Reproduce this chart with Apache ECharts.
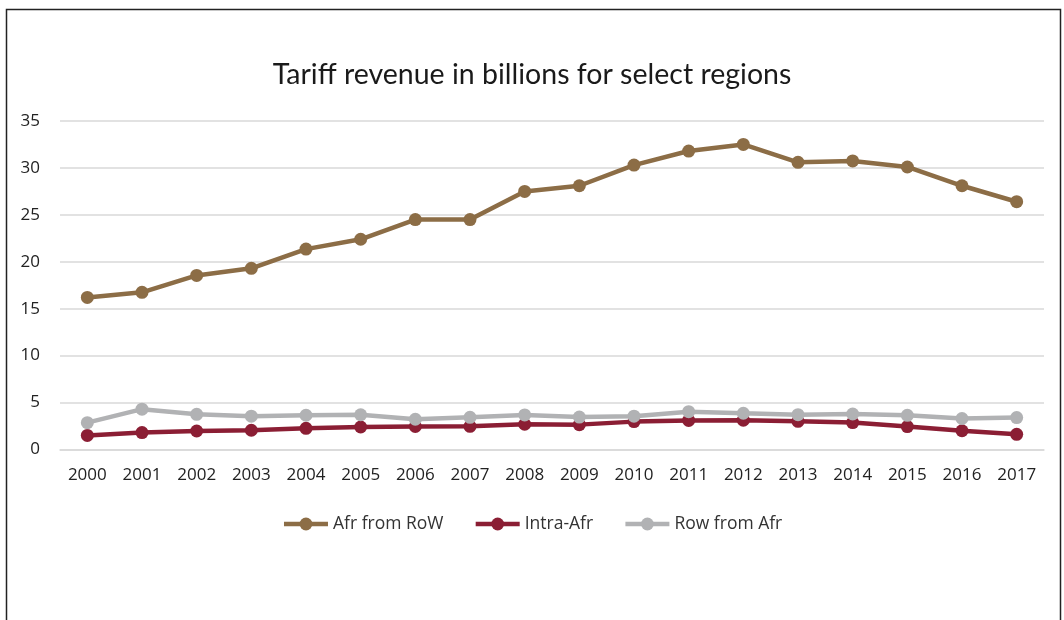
<!DOCTYPE html>
<html>
<head>
<meta charset="utf-8">
<script src="https://cdn.jsdelivr.net/npm/echarts@6/dist/echarts.min.js"></script>
<style>
html,body{margin:0;padding:0;background:#fff;}
#chart{width:1064px;height:620px;}
</style>
</head>
<body>
<div id="chart"></div>
<script>
const years = ['2000','2001','2002','2003','2004','2005','2006','2007','2008','2009','2010','2011','2012','2013','2014','2015','2016','2017'];
const afrFromRow = [16.2, 16.75, 18.55, 19.3, 21.35, 22.4, 24.5, 24.5, 27.5, 28.1, 30.3, 31.8, 32.5, 30.6, 30.75, 30.1, 28.1, 26.4];
const intraAfr = [1.5, 1.8, 1.97, 2.05, 2.26, 2.4, 2.45, 2.47, 2.69, 2.65, 2.97, 3.1, 3.12, 3.0, 2.87, 2.44, 2.0, 1.62];
const rowFromAfr = [2.86, 4.3, 3.75, 3.55, 3.65, 3.7, 3.22, 3.43, 3.68, 3.45, 3.55, 4.03, 3.86, 3.71, 3.78, 3.64, 3.3, 3.4];
const yTicks = {min: 0, max: 35, interval: 5};

const colors = ['#8C6D46', '#8B1E34', '#B1B2B4'];
const labelFont = '"Open Sans", "Noto Sans", sans-serif';

const chart = echarts.init(document.getElementById('chart'), null, {renderer: 'canvas'});
function mkSeries(name, data, color) {
  return {
    name: name, type: 'line', data: data,
    symbol: 'circle', symbolSize: 13,
    lineStyle: {color: color, width: 4.5},
    itemStyle: {color: color},
    emphasis: {disabled: true},
    animation: false
  };
}
chart.setOption({
  animation: false,
  graphic: [{
    type: 'rect', left: 4, top: 7,
    shape: {width: 1054, height: 640},
    style: {fill: 'none', stroke: '#222', lineWidth: 1.5},
    silent: true, z: -1
  }],
  title: {
    text: 'Tariff revenue in billions for select regions',
    left: 'center', top: 55,
    textStyle: {fontFamily: 'Lato, sans-serif', fontWeight: 'normal', fontSize: 28.5, color: '#1a1a1a'}
  },
  legend: {
    top: 510, left: 'center',
    itemWidth: 44, itemHeight: 16, itemGap: 30,
    lineStyle: {width: 4.5},
    textStyle: {fontFamily: labelFont, fontSize: 17.5, color: '#333'},
    data: ['Afr from RoW', 'Intra-Afr', 'Row from Afr']
  },
  grid: {left: 60, right: 20, top: 121, bottom: 170.5, containLabel: false},
  xAxis: {
    type: 'category', data: years, boundaryGap: true,
    axisLine: {show: true, lineStyle: {color: '#d9d9d9', width: 1.5}},
    axisTick: {show: false},
    axisLabel: {fontFamily: labelFont, fontSize: 17, color: '#222', margin: 17, interval: 0}
  },
  yAxis: {
    type: 'value', min: yTicks.min, max: yTicks.max, interval: yTicks.interval,
    axisLine: {show: false}, axisTick: {show: false},
    splitLine: {lineStyle: {color: '#d9d9d9', width: 1.5}},
    axisLabel: {fontFamily: labelFont, fontSize: 17, color: '#222', margin: 20}
  },
  series: [
    mkSeries('Afr from RoW', afrFromRow, colors[0]),
    mkSeries('Intra-Afr', intraAfr, colors[1]),
    mkSeries('Row from Afr', rowFromAfr, colors[2])
  ]
});
</script>
</body>
</html>
